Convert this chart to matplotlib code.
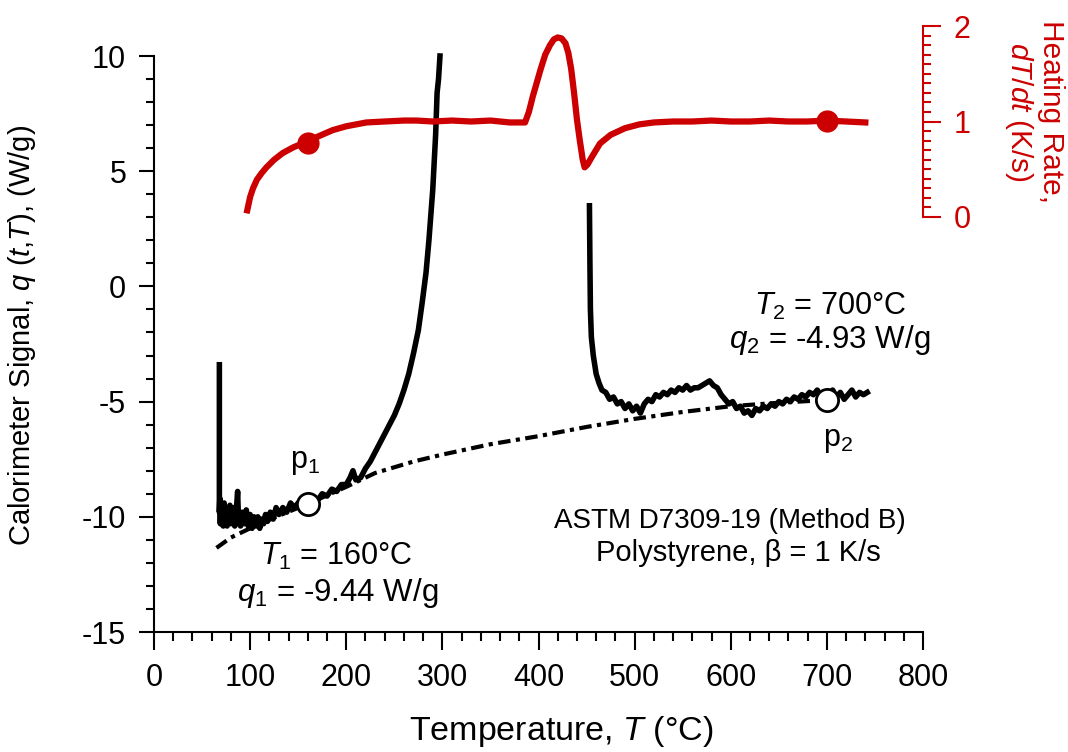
import matplotlib
matplotlib.use('Agg')
import matplotlib.pyplot as plt
from matplotlib.ticker import MultipleLocator

plt.rcParams['font.family'] = ['Liberation Sans', 'DejaVu Sans']
plt.rcParams['mathtext.fontset'] = 'custom'
plt.rcParams['mathtext.rm'] = 'Liberation Sans'
plt.rcParams['mathtext.it'] = 'Liberation Sans:italic'
plt.rcParams['axes.unicode_minus'] = False
plt.rcParams['font.size'] = 22

RED = '#cc0000'

# calorimeter signal, first part (melt / rise)
temp_a = [68, 68, 68.5, 69, 69.5, 70, 71, 72, 73, 74, 75, 76, 77, 78, 79, 80, 81, 82, 83,
          84, 85, 86, 87, 88, 89, 90, 92, 94, 96, 98, 100, 102, 104, 106, 108, 110, 112,
          114, 116, 118, 121, 124, 127, 130, 134, 138, 142, 146, 150, 155, 160, 165,
          170, 175, 180, 185, 190, 195, 200, 204, 207, 210, 215, 220, 225, 230, 235,
          240, 245, 250, 255, 260, 265, 270, 275, 279, 283, 286, 290, 293, 294.5, 296,
          297.5]
q_a = [-3.4, -9.8, -9.2, -10.3, -9.4, -10.1, -9.5, -10.4, -9.4, -10.1, -9.6, -10.4,
       -9.6, -10.2, -9.5, -10.3, -9.7, -10.1, -9.6, -10.4, -9.8, -9.5, -8.9, -10.3,
       -9.8, -10.4, -9.8, -10.3, -9.7, -10.4, -9.9, -10.5, -10.0, -10.4, -10.0, -10.5,
       -10.1, -10.3, -9.9, -10.2, -9.8, -10.1, -9.6, -9.9, -9.6, -9.8, -9.4, -9.6,
       -9.4, -9.5, -9.4, -9.2, -9.3, -9.0, -9.1, -8.8, -8.9, -8.6, -8.6, -8.3, -8.0,
       -8.4, -8.3, -7.9, -7.6, -7.2, -6.8, -6.4, -6.0, -5.6, -5.1, -4.5, -3.8, -2.9,
       -1.9, -0.7, 0.6, 2.0, 4.2, 6.6, 8.4, 9.0, 10.0]

# calorimeter signal, second part (after decomposition)
temp_b = [453, 453.5, 454, 455, 457, 460, 463, 466, 470, 474, 478, 482, 486, 490, 494,
          498, 502, 506, 510, 514, 518, 522, 526, 530, 534, 538, 542, 546, 550, 554,
          558, 562, 566, 570, 574, 578, 582, 586, 590, 594, 598, 602, 606, 610, 614,
          618, 622, 626, 630, 634, 638, 642, 646, 650, 654, 658, 662, 666, 670, 674,
          678, 682, 686, 690, 694, 698, 702, 706, 710, 714, 718, 722, 726, 730, 734,
          738, 742]
q_b = [3.5, 1.0, -1.0, -2.2, -3.0, -3.8, -4.2, -4.5, -4.6, -4.9, -4.8, -5.1, -5.0, -5.3,
       -5.1, -5.4, -5.2, -5.5, -5.1, -4.9, -5.0, -4.7, -4.8, -4.6, -4.7, -4.5, -4.6,
       -4.4, -4.5, -4.3, -4.5, -4.4, -4.4, -4.3, -4.2, -4.1, -4.3, -4.4, -4.7, -4.9,
       -5.1, -5.0, -5.3, -5.2, -5.5, -5.4, -5.6, -5.3, -5.4, -5.2, -5.3, -5.1, -5.2,
       -5.0, -5.1, -4.9, -5.0, -4.8, -4.9, -4.7, -4.8, -4.6, -4.7, -4.5, -4.8, -4.9,
       -4.7, -4.5, -4.8, -4.6, -4.9, -4.7, -4.5, -4.8, -4.6, -4.7, -4.6]

# baseline through p1 and p2
temp_base = [65, 80, 100, 130, 160, 200, 230, 270, 300, 350, 400, 450, 500, 550, 600,
             650, 700]
q_base = [-11.35, -10.9, -10.5, -9.95, -9.44, -8.7, -8.1, -7.6, -7.3, -6.85, -6.5,
          -6.1, -5.75, -5.45, -5.2, -5.05, -4.93]

# heating rate
temp_rate = [97, 100, 103, 107, 112, 117, 125, 134, 145, 157, 170, 186, 200, 221, 240,
             260, 273, 290, 310, 330, 350, 370, 386, 390, 394, 398, 402, 407, 412, 416,
             420, 424, 428, 431, 434, 437, 440, 443, 446, 448, 451, 455, 464, 475, 490,
             505, 520, 540, 560, 580, 600, 620, 640, 660, 680, 700, 720, 740]
rate = [0.07, 0.21, 0.30, 0.39, 0.46, 0.52, 0.60, 0.67, 0.73, 0.78, 0.84, 0.91, 0.95,
        0.99, 1.0, 1.01, 1.01, 1.0, 1.01, 1.0, 1.01, 0.99, 0.99, 1.1, 1.26, 1.4, 1.54,
        1.7, 1.8, 1.86, 1.88, 1.87, 1.82, 1.72, 1.55, 1.3, 1.02, 0.8, 0.6, 0.52, 0.55,
        0.62, 0.77, 0.86, 0.93, 0.97, 0.99, 1.0, 1.0, 1.01, 1.0, 1.0, 1.01, 1.0, 1.0,
        1.01, 1.0, 0.99]

pt_temp = [160, 700]
pt_q = [-9.44, -4.93]
pt_rate = [0.775, 1.01]

fig = plt.figure(figsize=(10.68, 7.52), dpi=100)
ax = fig.add_axes([154 / 1068, 120 / 752, 769 / 1068, 576 / 752])

ax.plot(temp_base, q_base, color='black', lw=3, ls=(0, (3, 1.3, 1, 1.3)))
ax.plot(temp_a, q_a, color='black', lw=4, clip_on=False)
ax.plot(temp_b, q_b, color='black', lw=4)
ax.plot(pt_temp, pt_q, 'o', ms=16, mfc='white', mec='black', mew=2, zorder=5)

ax.set_xlim(0, 800)
ax.set_ylim(-15, 10)
ax.spines['top'].set_visible(False)
ax.spines['right'].set_visible(False)
for s in ['left', 'bottom']:
    ax.spines[s].set_linewidth(1.5)
ax.xaxis.set_major_locator(MultipleLocator(100))
ax.xaxis.set_minor_locator(MultipleLocator(20))
ax.yaxis.set_major_locator(MultipleLocator(5))
ax.yaxis.set_minor_locator(MultipleLocator(1))
ax.tick_params(axis='x', which='major', direction='out', length=13, width=1.5, pad=9,
               labelsize=22)
ax.tick_params(axis='x', which='minor', direction='out', length=6.5, width=1.5)
ax.tick_params(axis='y', which='major', direction='out', length=11, width=1.5, pad=9,
               labelsize=22)
ax.tick_params(axis='y', which='minor', direction='out', length=6, width=1.5)
ax.set_xlabel(r'Temperature, $T$ (°C)', fontsize=24.5)
ax.xaxis.set_label_coords(0.53, -0.143)

fig.text(22 / 1068, 1 - 335 / 752, r'Calorimeter Signal, $q$ ($t$,$T$), (W/g)',
         rotation=90, ha='center', va='center', fontsize=21)

ax.text(157, -7.62, r'p$_1$', ha='center', va='center')
ax.text(712, -6.67, r'p$_2$', ha='center', va='center')
ax.text(189, -11.7, r'$T_1$ = 160°C', ha='center', va='center')
ax.text(191, -13.3, r'$q_1$ = -9.44 W/g', ha='center', va='center', fontsize=22.5)
ax.text(703, -0.85, r'$T_2$ = 700°C', ha='center', va='center')
ax.text(703, -2.33, r'$q_2$ = -4.93 W/g', ha='center', va='center', fontsize=22.5)
ax.text(599, -10.2, 'ASTM D7309-19 (Method B)', ha='center', va='center', fontsize=20)
ax.text(608, -11.57, 'Polystyrene, β = 1 K/s', ha='center', va='center', fontsize=21)

# heating rate axis, upper right
ax2 = fig.add_axes([154 / 1068, 535 / 752, 769 / 1068, 191 / 752])
ax2.patch.set_visible(False)
ax2.plot(temp_rate, rate, color=RED, lw=4.5)
ax2.plot(pt_temp, pt_rate, 'o', ms=15, color=RED, zorder=5)
ax2.set_xlim(0, 800)
ax2.set_ylim(0, 2)
for s in ['left', 'top', 'bottom']:
    ax2.spines[s].set_visible(False)
ax2.spines['right'].set_color(RED)
ax2.spines['right'].set_linewidth(1.5)
ax2.xaxis.set_visible(False)
ax2.yaxis.tick_right()
ax2.yaxis.set_major_locator(MultipleLocator(1))
ax2.yaxis.set_minor_locator(MultipleLocator(0.1))
ax2.tick_params(axis='y', which='major', direction='out', length=13, width=1.5,
                color=RED, labelcolor=RED, pad=9, labelsize=22)
ax2.tick_params(axis='y', which='minor', direction='out', length=6, width=1.5, color=RED)

fig.text(1051 / 1068, 1 - 112 / 752, 'Heating Rate,', rotation=270, color=RED,
         ha='center', va='center', fontsize=21.5)
fig.text(1019 / 1068, 1 - 112 / 752, r'$dT/dt$ (K/s)', rotation=270, color=RED,
         ha='center', va='center', fontsize=21.5)

fig.savefig('out.png', dpi=100)
